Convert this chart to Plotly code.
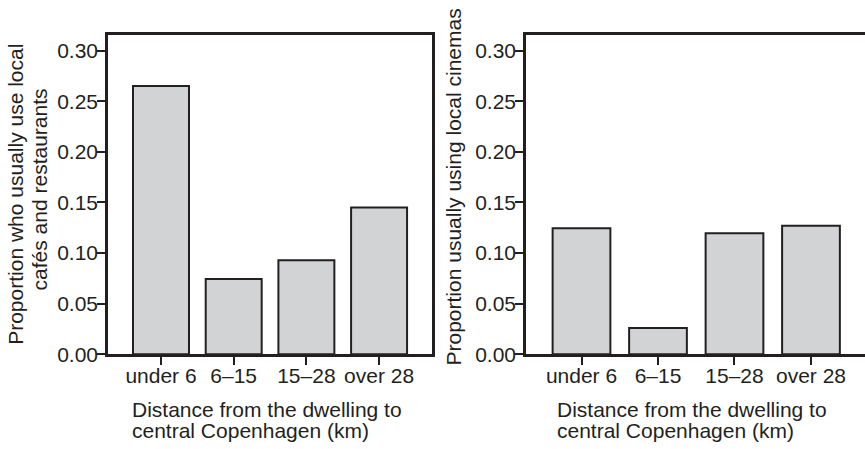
import plotly.graph_objects as go

# ---- data ----
categories = ["under 6", "6–15", "15–28", "over 28"]
cafes = [0.265, 0.0745, 0.093, 0.145]
cinemas = [0.1245, 0.026, 0.1195, 0.127]
y_tickvals = [0.00, 0.05, 0.10, 0.15, 0.20, 0.25, 0.30]
y_ticktext = ["0.00", "0.05", "0.10", "0.15", "0.20", "0.25", "0.30"]
left_ytitle = ["Proportion who usually use local", "cafés and restaurants"]
right_ytitle = "Proportion usually using local cinemas"
xtitle = ["Distance from the dwelling to", "central Copenhagen (km)"]

W, H = 865, 449
INK = "#231f20"
FILL = "#d1d3d4"
FONT = "Liberation Sans, Arial, sans-serif"
FS = 21

fig = go.Figure()
fig.add_trace(go.Bar(x=categories, y=cafes, width=0.77, xaxis="x", yaxis="y",
                     marker=dict(color=FILL, line=dict(color=INK, width=2)),
                     showlegend=False, hoverinfo="skip"))
fig.add_trace(go.Bar(x=categories, y=cinemas, width=0.755, xaxis="x2", yaxis="y2",
                     marker=dict(color=FILL, line=dict(color=INK, width=2)),
                     showlegend=False, hoverinfo="skip"))

def px(x):
    return x / W

def py(y):
    return (H - y) / H

ydom = [py(355), py(28)]
common_y = dict(range=[0, 0.3151], tickvals=y_tickvals, ticktext=y_ticktext,
                showgrid=False, zeroline=False, showline=True, linecolor=INK,
                linewidth=2.5, ticks="outside", ticklen=8, tickwidth=2,
                tickcolor=INK, tickfont=dict(family=FONT, size=FS, color=INK),
                ticklabelstandoff=-5, domain=ydom, fixedrange=True)
common_x = dict(type="category", showgrid=False, zeroline=False, showline=True,
                linecolor=INK, linewidth=2.5, ticks="outside", ticklen=8,
                tickwidth=2, tickcolor=INK, mirror=True, ticklabelstandoff=-7,
                tickfont=dict(family=FONT, size=FS, color=INK), fixedrange=True)

fig.update_layout(
    width=W, height=H,
    margin=dict(l=0, r=0, t=0, b=0),
    paper_bgcolor="white", plot_bgcolor="white",
    font=dict(family=FONT, size=FS, color=INK),
    bargap=0.2,
    xaxis=dict(common_x, domain=[px(108), px(432)], range=[-0.729, 3.728], anchor="y"),
    yaxis=dict(common_y, anchor="x", mirror=True),
    xaxis2=dict(common_x, domain=[px(526), 1.0], range=[-0.7255, 3.706], anchor="y2"),
    yaxis2=dict(common_y, anchor="x2", mirror=False),
)

ann = []
# x-axis titles (two left-aligned lines each)
for x0 in (130, 555):
    for i, line in enumerate(xtitle):
        ann.append(dict(text=line, xref="paper", yref="paper",
                        x=px(x0), y=py(412 + 21 * i), xanchor="left", yanchor="middle",
                        showarrow=False, font=dict(family=FONT, size=FS, color=INK)))
# y-axis titles
ann.append(dict(text=left_ytitle[0], xref="paper", yref="paper", x=px(16), y=py(191.5),
                xanchor="center", yanchor="middle", textangle=-90, showarrow=False,
                font=dict(family=FONT, size=FS, color=INK)))
ann.append(dict(text=left_ytitle[1], xref="paper", yref="paper", x=px(39), y=py(186),
                xanchor="center", yanchor="middle", textangle=-90, showarrow=False,
                font=dict(family=FONT, size=FS, color=INK)))
ann.append(dict(text=right_ytitle, xref="paper", yref="paper", x=px(453), y=py(184),
                xanchor="center", yanchor="middle", textangle=-90, showarrow=False,
                font=dict(family=FONT, size=FS, color=INK)))
fig.update_layout(annotations=ann)

fig.write_html("out.html", config={"displayModeBar": False},
               post_script="document.body.style.marginLeft='0';document.body.style.marginRight='0';")
